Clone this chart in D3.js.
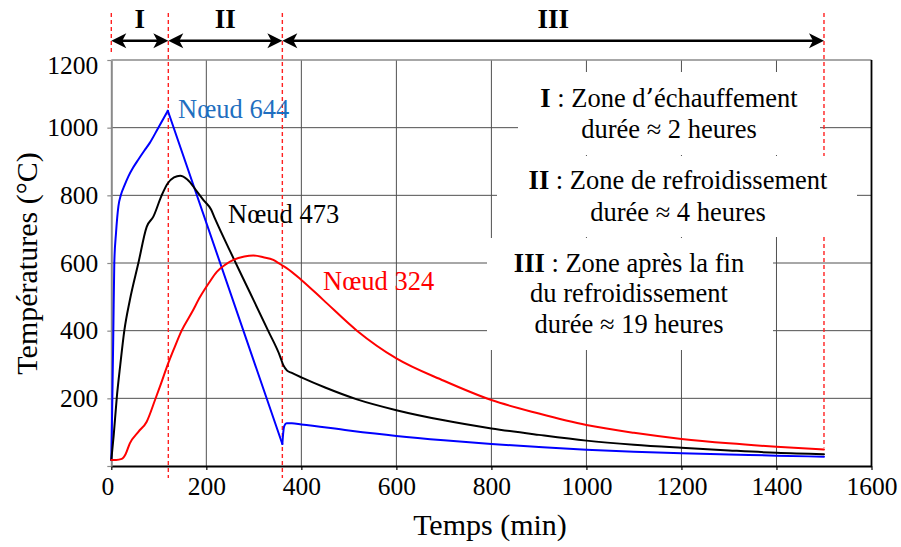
<!DOCTYPE html>
<html>
<head>
<meta charset="utf-8">
<script src="https://cdn.jsdelivr.net/npm/d3@7"></script>
<style>
  html, body { margin: 0; padding: 0; background: #fff; }
  svg { display: block; }
  svg text { font-family: "Liberation Serif", "Times New Roman", serif; }
  svg tspan.glyph { font-family: "DejaVu Serif", serif; }
</style>
</head>
<body>
<svg id="chart" width="901" height="547"></svg>
<script>
// Temperature history of three nodes (time in minutes, temperature in °C)
const node644Time = [0, 1, 2.2, 4.3, 6.3, 10, 15, 20, 28, 36, 46, 57, 69, 81, 99, 119, 360, 362, 364, 369, 380, 400, 500, 600, 700, 800, 900, 1000, 1100, 1200, 1300, 1400, 1500];
const node644Temp = [18, 100, 200, 400, 600, 690, 768, 800, 830, 856, 882, 906, 931, 955, 1000, 1050, 65, 100, 118, 126, 126, 123, 105, 89, 76, 65, 56, 48, 42, 37.5, 34, 30.5, 27.5];

const node473Time = [0, 5, 11.4, 19, 27.4, 39, 57, 74.5, 88.5, 106, 118.6, 132, 145, 160, 180, 194, 210, 218, 250, 292, 330, 355, 362, 370, 380, 400, 450, 517, 600, 700, 800, 900, 1000, 1100, 1200, 1300, 1400, 1500];
const node473Temp = [18, 90, 200, 300, 400, 490, 600, 707, 737, 800, 835, 853, 858, 847, 812, 786, 758, 732, 635, 512, 400, 325, 298, 282, 275, 262, 232, 197, 165, 135, 111, 92, 75, 63, 54, 46, 39, 35];

const node324Time = [0, 10, 22, 30, 39, 57, 74.5, 92, 105, 117, 133, 148, 170, 187, 205, 222, 240, 257, 280, 299, 320, 341, 355, 369, 400, 446, 517, 600, 700, 800, 900, 1000, 1100, 1200, 1300, 1400, 1500];
const node324Temp = [18, 18, 21, 35, 67, 101, 131, 195, 245, 293, 350, 400, 455, 500, 540, 574, 595, 609, 619, 622, 617, 609, 597, 585, 550, 491, 400, 318, 252, 195, 155, 121, 98, 80, 67, 57, 49];

const seriesNames = ["Nœud 644", "Nœud 473", "Nœud 324"];

// Phase boundaries (min) and their labels
const zoneBounds = [0, 120, 360, 1500];
const zoneLabels = ["I", "II", "III"];

// Axis ticks
const xTicks = [0, 200, 400, 600, 800, 1000, 1200, 1400, 1600];
const yTicks = [0, 200, 400, 600, 800, 1000, 1200];

// Phase descriptions
const zoneNotes = [
  { roman: "I", lines: [" : Zone d’échauffement", "durée ≈ 2 heures"] },
  { roman: "II", lines: [" : Zone de refroidissement", "durée ≈ 4 heures"] },
  { roman: "III", lines: [" : Zone après la fin", "du refroidissement", "durée ≈ 19 heures"] }
];

const SERIF = "Liberation Serif, Times New Roman, serif";
const svg = d3.select("#chart");
const x = d3.scaleLinear().domain([0, 1600]).range([111.3, 871.5]);
const y = d3.scaleLinear().domain([0, 1200]).range([466, 60]);

// Writes a string into a text element; the typographic apostrophe gets
// its own tspan and face, the rest stays in the serif face.
function writeText(sel, str) {
  str.split(/(’)/).filter(s => s.length).forEach(part => {
    const ts = sel.append("tspan").text(part);
    if (part === "’") ts.attr("class", "glyph");
  });
}

// grid
const grid = svg.append("g");
grid.selectAll("line.v").data(xTicks.filter(d => d > 0 && d < 1600)).join("line")
  .attr("x1", d => x(d)).attr("x2", d => x(d))
  .attr("y1", y(0)).attr("y2", y(1200))
  .attr("stroke", "#505050").attr("stroke-width", 1);
grid.selectAll("line.h").data(yTicks.filter(d => d > 0 && d < 1200)).join("line")
  .attr("x1", x(0)).attr("x2", x(1600))
  .attr("y1", d => y(d)).attr("y2", d => y(d))
  .attr("stroke", "#505050").attr("stroke-width", 1);

// frame: top grey, right black
svg.append("line").attr("x1", x(0)).attr("x2", x(1600)).attr("y1", y(1200)).attr("y2", y(1200))
  .attr("stroke", "#8a8a8a").attr("stroke-width", 1.6);
svg.append("line").attr("x1", x(1600)).attr("x2", x(1600)).attr("y1", y(1200)).attr("y2", y(0))
  .attr("stroke", "#000").attr("stroke-width", 1.8);

// phase boundary dashed lines
const dashEnds = [
  { t: zoneBounds[0], y2: 55 },
  { t: zoneBounds[1], y2: 478 },
  { t: zoneBounds[2], y2: 478 },
  { t: zoneBounds[3], y2: y(node324Temp[node324Temp.length - 1]) - 2 }
];
svg.selectAll("line.dash").data(dashEnds).join("line")
  .attr("x1", d => x(d.t)).attr("x2", d => x(d.t))
  .attr("y1", 13).attr("y2", d => d.y2)
  .attr("stroke", "#ff2020").attr("stroke-width", 1.4)
  .attr("stroke-dasharray", "4,3");

// white panels behind the phase descriptions
const panels = [
  { x0: 518, x1: 820, y0: 72, y1: 155 },
  { x0: 497, x1: 857, y0: 156, y1: 237 },
  { x0: 487, x1: 773, y0: 238, y1: 350 }
];
svg.selectAll("rect.panel").data(panels).join("rect")
  .attr("x", d => d.x0).attr("y", d => d.y0)
  .attr("width", d => d.x1 - d.x0).attr("height", d => d.y1 - d.y0)
  .attr("fill", "#fff");

// axes
const xAxis = svg.append("g").attr("transform", `translate(0,${y(0)})`)
  .call(d3.axisBottom(x).tickValues(xTicks).tickSize(4).tickSizeOuter(0).tickPadding(7).tickFormat(d3.format("d")));
xAxis.attr("font-family", SERIF).attr("font-size", 25.5);
xAxis.select(".domain").attr("stroke", "#000").attr("stroke-width", 2);
xAxis.selectAll(".tick line").attr("stroke", "#000").attr("stroke-width", 1.2);
xAxis.selectAll(".tick text").attr("fill", "#000");
xAxis.selectAll(".tick text").filter(d => d === 0).attr("dx", -4);

const yAxis = svg.append("g").attr("transform", `translate(${x(0)},0)`)
  .call(d3.axisLeft(y).tickValues(yTicks).tickSize(4).tickSizeOuter(0).tickPadding(9)
    .tickFormat(d => d === 0 ? "" : d3.format("d")(d)));
yAxis.attr("font-family", SERIF).attr("font-size", 25.5);
yAxis.select(".domain").attr("stroke", "#8a8a8a").attr("stroke-width", 2);
yAxis.selectAll(".tick line").attr("stroke", "#8a8a8a").attr("stroke-width", 1.2);
yAxis.selectAll(".tick text").attr("fill", "#000");
yAxis.selectAll(".tick text").filter(d => d === 1200).attr("dy", "0.52em");

// axis titles
svg.append("text").attr("x", 490).attr("y", 535).attr("text-anchor", "middle")
  .attr("font-family", SERIF).attr("font-size", 30).text("Temps (min)");
svg.append("text").attr("transform", "translate(36.5,263.5) rotate(-90)").attr("text-anchor", "middle")
  .attr("font-family", SERIF).attr("font-size", 30).text("Températures (°C)");

// curves; the blue node is drawn in three pieces so its peak and its
// minimum stay sharp while the heating and the late cooling stay smooth
const pairs = (time, temp, from, to) => time.slice(from, to + 1).map((t, i) => [t, temp[from + i]]);
const peak644 = node644Time.indexOf(119);
const dip644 = node644Time.indexOf(360);
const pieces = [
  { pts: pairs(node644Time, node644Temp, 0, peak644), color: "#0000ff", curve: d3.curveMonotoneX },
  { pts: pairs(node644Time, node644Temp, peak644, dip644), color: "#0000ff", curve: d3.curveLinear },
  { pts: pairs(node644Time, node644Temp, dip644, node644Time.length - 1), color: "#0000ff", curve: d3.curveMonotoneX },
  { pts: pairs(node473Time, node473Temp, 0, node473Time.length - 1), color: "#000000", curve: d3.curveMonotoneX },
  { pts: pairs(node324Time, node324Temp, 0, node324Time.length - 1), color: "#ff0000", curve: d3.curveMonotoneX }
];
pieces.forEach(s => {
  svg.append("path").datum(s.pts)
    .attr("d", d3.line().x(d => x(d[0])).y(d => y(d[1])).curve(s.curve))
    .attr("fill", "none").attr("stroke", s.color).attr("stroke-width", 2)
    .attr("stroke-linejoin", "round").attr("stroke-linecap", "round");
});

// curve labels
const curveLabels = [
  { text: seriesNames[0], x: 178, y: 118, color: "#1f6fc0" },
  { text: seriesNames[1], x: 228, y: 223, color: "#000" },
  { text: seriesNames[2], x: 323, y: 290, color: "#ff0000" }
];
svg.selectAll("text.clabel").data(curveLabels).join("text")
  .attr("class", "clabel")
  .attr("x", d => d.x).attr("y", d => d.y).attr("fill", d => d.color)
  .attr("font-size", 26.5).text(d => d.text);

// phase arrows along the top
const arrowY = 40.7;
const head = (xTip, dir) => {
  const L = 15, H = 7.5, N = 11;
  return `M${xTip},${arrowY} L${xTip + dir * L},${arrowY - H} L${xTip + dir * N},${arrowY} L${xTip + dir * L},${arrowY + H} Z`;
};
const arrows = svg.append("g");
for (let i = 0; i < zoneLabels.length; i++) {
  const a = x(zoneBounds[i]), b = x(zoneBounds[i + 1]);
  arrows.append("line").attr("x1", a + 4).attr("x2", b - 4).attr("y1", arrowY).attr("y2", arrowY)
    .attr("stroke", "#000").attr("stroke-width", 2.6);
  arrows.append("path").attr("d", head(a, 1)).attr("fill", "#000");
  arrows.append("path").attr("d", head(b, -1)).attr("fill", "#000");
  arrows.append("text").attr("x", (a + b) / 2).attr("y", 28).attr("text-anchor", "middle")
    .attr("font-family", SERIF).attr("font-size", 27).attr("font-weight", "bold").text(zoneLabels[i]);
}

// phase descriptions
const notePos = [
  { cx: 669, baselines: [107, 138] },
  { cx: 678, baselines: [189, 221] },
  { cx: 629, baselines: [272, 302, 333] }
];
zoneNotes.forEach((n, i) => {
  const p = notePos[i];
  n.lines.forEach((line, j) => {
    const t = svg.append("text").attr("x", p.cx).attr("y", p.baselines[j])
      .attr("text-anchor", "middle").attr("font-size", 26.5);
    if (j === 0) t.append("tspan").attr("font-weight", "bold").text(n.roman);
    writeText(t, line);
  });
});
</script>
</body>
</html>
